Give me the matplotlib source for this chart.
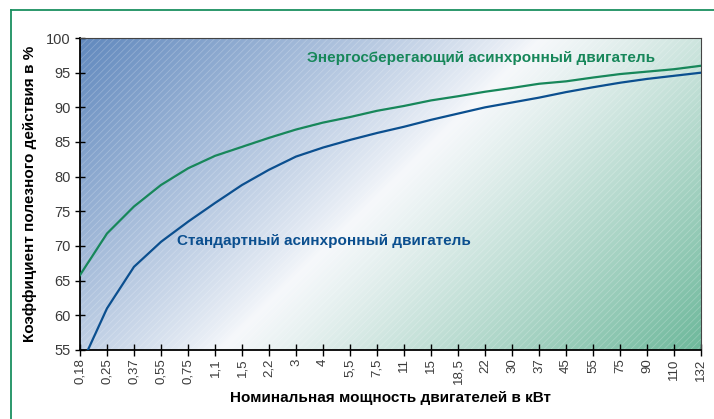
# КПД стандартного и энергосберегающего асинхронного двигателя

import numpy as np
import matplotlib
matplotlib.use("Agg")
import matplotlib.pyplot as plt
from matplotlib.patches import Rectangle
from matplotlib.lines import Line2D
from matplotlib.colors import to_rgb

plt.rcParams["font.family"] = ["Liberation Sans", "DejaVu Sans"]
plt.rcParams["hatch.linewidth"] = 0.6

# Data
power_labels = ["0,18", "0,25", "0,37", "0,55", "0,75", "1,1", "1,5", "2,2", "3", "4",
                "5,5", "7,5", "11", "15", "18,5", "22", "30", "37", "45", "55",
                "75", "90", "110", "132"]
efficiency_saving = [65.8, 71.8, 75.7, 78.8, 81.2, 83.0, 84.3, 85.6, 86.8, 87.8,
                     88.6, 89.5, 90.2, 91.0, 91.6, 92.25, 92.8, 93.4, 93.75, 94.3,
                     94.8, 95.15, 95.5, 96.0]
efficiency_standard = [52.5, 61.0, 67.0, 70.6, 73.5, 76.2, 78.8, 81.0, 82.9, 84.2,
                       85.3, 86.3, 87.2, 88.2, 89.1, 90.0, 90.7, 91.4, 92.2, 92.9,
                       93.55, 94.1, 94.55, 95.0]
y_ticks = [55, 60, 65, 70, 75, 80, 85, 90, 95, 100]

green = "#17875a"
blue = "#0b4f8f"

fig = plt.figure(figsize=(7.14, 4.19), dpi=100)
ax = fig.add_axes([0.112, 0.1647, 0.870, 0.7446])

x = np.arange(len(power_labels))

# Background gradient: blue (top left) -> white -> green (bottom right)
w, h = 621, 312
px, py = np.meshgrid(np.linspace(0, w, 400), np.linspace(h, 0, 200))
d = (312 * (px - 140) - 320 * py) / 447.0
c_blue = np.array(to_rgb("#6189be"))
c_white = np.array(to_rgb("#f6f8fb"))
c_green = np.array(to_rgb("#6db89b"))
tb = np.clip(-d / 321.0, 0, 1)[..., None] ** 0.85
tg = np.clip(d / 336.0, 0, 1)[..., None] ** 1.1
img = np.where(d[..., None] < 0,
               c_white * (1 - tb) + c_blue * tb,
               c_white * (1 - tg) + c_green * tg)
ax.imshow(img, extent=[0, len(power_labels) - 1, 55, 100], aspect="auto",
          zorder=0, interpolation="bilinear")
ax.add_patch(Rectangle((0, 0), 1, 1, transform=ax.transAxes, fill=False,
                       hatch="/////", edgecolor=(1, 1, 1, 0.22), lw=0, zorder=1))

# Curves
ax.plot(x, efficiency_saving, color=green, lw=1.6, zorder=3)
ax.plot(x, efficiency_standard, color=blue, lw=1.6, zorder=3)

ax.text(8.4, 97.1, "Энергосберегающий асинхронный двигатель", color=green,
        fontsize=11, fontweight="bold", va="center", ha="left", zorder=4)
ax.text(3.59, 70.7, "Стандартный асинхронный двигатель", color=blue,
        fontsize=11, fontweight="bold", va="center", ha="left", zorder=4)

# Axes
ax.set_xlim(0, len(power_labels) - 1)
ax.set_ylim(55, 100)
ax.set_xticks(x)
ax.set_xticklabels(power_labels, rotation=90, fontsize=9.5, color="#3a3a3a")
ax.set_yticks(y_ticks)
ax.set_yticklabels([str(v) for v in y_ticks], fontsize=10.5, color="#3a3a3a")
ax.tick_params(axis="x", direction="inout", length=8, width=1, pad=2)
ax.tick_params(axis="y", direction="inout", length=7, width=1, pad=3)

for side in ["left", "bottom"]:
    ax.spines[side].set_linewidth(1.3)
    ax.spines[side].set_color("black")
for side in ["top", "right"]:
    ax.spines[side].set_linewidth(0.8)
    ax.spines[side].set_color("#444444")

ax.set_xlabel("Номинальная мощность двигателей в кВт", fontsize=11,
              fontweight="bold", labelpad=5)
ax.set_ylabel("Коэффициент полезного действия в %", fontsize=11,
              fontweight="bold", labelpad=7)

# Green frame (only left and top edges visible)
fig.add_artist(Line2D([0.0154, 0.0154], [0.0, 0.976], color="#1a9060", lw=1.3,
                      transform=fig.transFigure))
fig.add_artist(Line2D([0.0154, 1.0], [0.976, 0.976], color="#1a9060", lw=1.3,
                      transform=fig.transFigure))

fig.savefig("out.png", dpi=100)
